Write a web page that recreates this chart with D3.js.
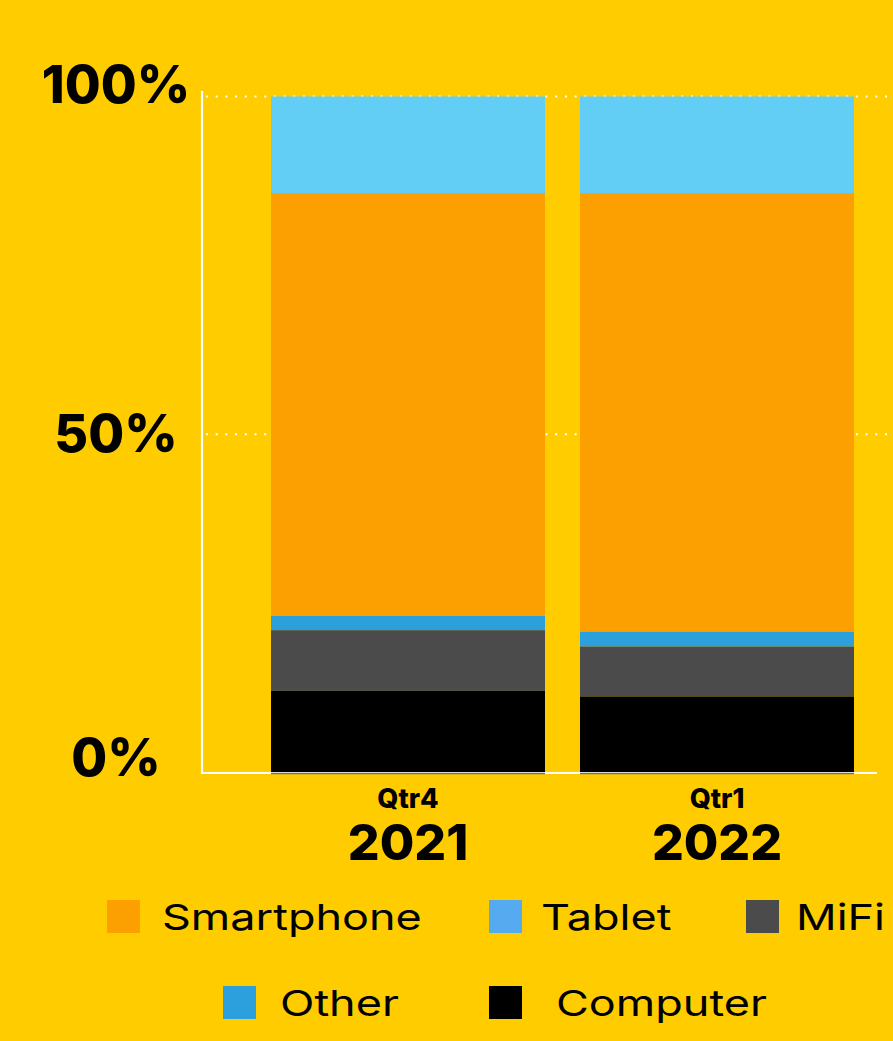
<!DOCTYPE html>
<html>
<head>
<meta charset="utf-8">
<script src="https://cdn.jsdelivr.net/npm/d3@7"></script>
<style>
  html, body { margin: 0; padding: 0; background: #FFCC00; }
  svg { display: block; }
</style>
</head>
<body>
<div id="chart"></div>
<script>
// data (share in %)
const quarters = ["Qtr4", "Qtr1"];
const years = ["2021", "2022"];
const series = ["Computer", "MiFi", "Other", "Smartphone", "Tablet"];
const computer = [12.0, 11.2];
const mifi = [9.0, 7.4];
const other = [2.1, 2.2];
const smartphone = [62.6, 64.9];
const tablet = [14.3, 14.3];
const yTicks = [0, 50, 100];
const yTickLabels = ["0%", "50%", "100%"];

const legendNames = ["Smartphone", "Tablet", "MiFi", "Other", "Computer"];

const W = 893, H = 1041;
const bg = "#FFCC00";
const barColors = {
    Computer: "#000000",
    MiFi: "#4B4B4B",
    Other: "#2CA0DC",
    Smartphone: "#FBA000",
    Tablet: "#62CDF5"
};
const legendColors = {
    Smartphone: "#FBA000",
    Tablet: "#55AAF0",
    MiFi: "#4B4B4B",
    Other: "#2CA0DC",
    Computer: "#000000"
};

const rows = quarters.map((q, i) => ({
    key: q + " " + years[i],
    Computer: computer[i],
    MiFi: mifi[i],
    Other: other[i],
    Smartphone: smartphone[i],
    Tablet: tablet[i]
}));

const svg = d3.select("#chart")
    .append("svg")
    .attr("width", W)
    .attr("height", H);

svg.append("rect")
    .attr("width", W)
    .attr("height", H)
    .attr("fill", bg);

// bars 274 wide with a 35px gap
const xb = d3.scaleBand()
    .domain(rows.map(d => d.key))
    .range([271, 854])
    .paddingInner(0.1133)
    .paddingOuter(0);

const y = d3.scaleLinear()
    .domain([0, 100])
    .range([772, 96.5]);

// gridlines
svg.append("g")
    .selectAll("line")
    .data(yTicks.filter(t => t > 0))
    .join("line")
    .attr("x1", 206)
    .attr("x2", W)
    .attr("y1", d => y(d))
    .attr("y2", d => y(d))
    .attr("stroke", "#fff")
    .attr("stroke-width", 2)
    .attr("stroke-dasharray", "2,7.7");

// stacked bars
const stack = d3.stack().keys(series)(rows);

svg.append("g")
    .selectAll("g")
    .data(stack)
    .join("g")
    .attr("fill", d => barColors[d.key])
    .selectAll("rect")
    .data(d => d)
    .join("rect")
    .attr("x", d => xb(d.data.key))
    .attr("width", xb.bandwidth())
    .attr("y", d => y(d[1]))
    .attr("height", d => y(d[0]) - y(d[1]));

// axes lines
svg.append("line")
    .attr("x1", 202).attr("x2", 202)
    .attr("y1", 91).attr("y2", y(0) + 2)
    .attr("stroke", "#fff")
    .attr("stroke-width", 2.2);

svg.append("line")
    .attr("x1", 201).attr("x2", 877)
    .attr("y1", y(0) + 1).attr("y2", y(0) + 1)
    .attr("stroke", "#fff")
    .attr("stroke-width", 2.2);

svg.append("g")
    .selectAll("line")
    .data(rows)
    .join("line")
    .attr("x1", d => xb(d.key))
    .attr("x2", d => xb(d.key) + xb.bandwidth())
    .attr("y1", y(0) + 1.5)
    .attr("y2", y(0) + 1.5)
    .attr("stroke", "#6E6E6E")
    .attr("stroke-width", 1.6);

// y tick labels
const tickDy = { 0: 4, 50: 18, 100: 6 };
svg.append("g")
    .selectAll("text")
    .data(yTicks)
    .join("text")
    .attr("x", 116)
    .attr("y", d => y(d) + tickDy[d])
    .attr("text-anchor", "middle")
    .attr("font-family", "Inter, 'DejaVu Sans', sans-serif")
    .attr("font-weight", 800)
    .attr("font-size", 52)
    .attr("fill", "#000")
    .text((d, i) => yTickLabels[i]);

// x labels
const xl = svg.append("g")
    .selectAll("g")
    .data(rows)
    .join("g")
    .attr("transform", d => `translate(${xb(d.key) + xb.bandwidth() / 2},0)`);

xl.append("text")
    .attr("y", 808)
    .attr("text-anchor", "middle")
    .attr("font-family", "Inter, 'DejaVu Sans', sans-serif")
    .attr("font-weight", 800)
    .attr("font-size", 27)
    .text((d, i) => quarters[i]);

xl.append("text")
    .attr("y", 860)
    .attr("text-anchor", "middle")
    .attr("font-family", "Inter, 'DejaVu Sans', sans-serif")
    .attr("font-weight", 800)
    .attr("font-size", 50)
    .text((d, i) => years[i]);

// legend
const legendPos = {
    Smartphone: [107, 900, 55],
    Tablet: [489, 900, 52],
    MiFi: [746, 900, 50],
    Other: [223, 986, 57],
    Computer: [489, 986, 67]
};

const lg = svg.append("g")
    .selectAll("g")
    .data(legendNames)
    .join("g")
    .attr("transform", d => `translate(${legendPos[d][0]},${legendPos[d][1]})`);

lg.append("rect")
    .attr("width", 33)
    .attr("height", 33)
    .attr("fill", d => legendColors[d]);

lg.append("text")
    .attr("transform", d => `translate(${legendPos[d][2]},30) scale(1.25,1)`)
    .attr("font-family", "Inter, 'DejaVu Sans', sans-serif")
    .attr("font-weight", 400)
    .attr("font-size", 36)
    .attr("fill", "#000")
    .text(d => d);
</script>
</body>
</html>
